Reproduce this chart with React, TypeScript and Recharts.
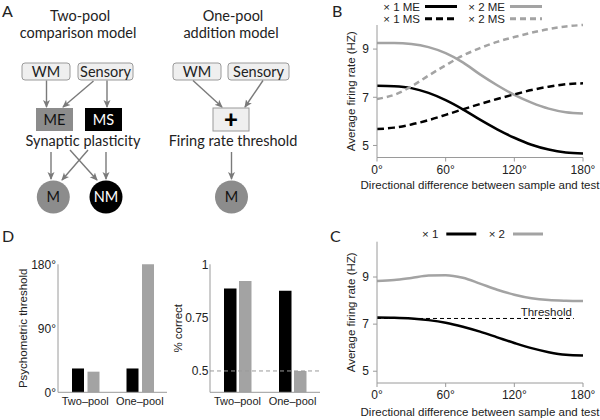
import React from 'react';
import { LineChart, Line, XAxis, YAxis, BarChart, Bar, ReferenceLine, Label } from 'recharts';

// ---------- data ----------
const angles = [0, 15, 30, 45, 60, 75, 90, 105, 120, 135, 150, 165, 180];
const bX1ME = [7.48, 7.46, 7.38, 7.18, 6.88, 6.5, 6.07, 5.67, 5.32, 5.03, 4.83, 4.71, 4.67];
const bX2ME = [9.25, 9.25, 9.21, 9.08, 8.83, 8.45, 7.95, 7.5, 7.1, 6.78, 6.53, 6.38, 6.33];
const bX1MS = [5.68, 5.74, 5.87, 6.05, 6.27, 6.5, 6.72, 6.93, 7.12, 7.3, 7.44, 7.54, 7.58];
const bX2MS = [6.93, 7.1, 7.45, 7.9, 8.33, 8.73, 9.04, 9.3, 9.5, 9.68, 9.83, 9.94, 10.0];
const cX1 = [7.28, 7.27, 7.24, 7.17, 7.06, 6.89, 6.68, 6.44, 6.2, 5.98, 5.81, 5.7, 5.67];
const cX2 = [8.83, 8.87, 8.96, 9.06, 9.08, 8.97, 8.72, 8.46, 8.25, 8.1, 8.02, 7.99, 7.98];
const cThreshold = 7.24;
const cThresholdEnd = 172;
const angleTicks = [0, 60, 120, 180];
const rateTicks = [5, 7, 9];
const models = ['Two–pool', 'One–pool'];
const thresholdX1 = [33.5, 33.5];
const thresholdX2 = [29, 180];
const thresholdTicks = [0, 90, 180];
const correctX1 = [0.887, 0.876];
const correctX2 = [0.922, 0.5];
const correctTicks = [0.5, 0.75, 1];
const chance = 0.5;
const legendB = ['× 1 ME', '× 2 ME', '× 1 MS', '× 2 MS'];
const legendC = ['× 1', '× 2'];

const bData = angles.map((a, i) => ({ angle: a, x1ME: bX1ME[i], x2ME: bX2ME[i], x1MS: bX1MS[i], x2MS: bX2MS[i] }));
const cData = angles.map((a, i) => ({ angle: a, x1: cX1[i], x2: cX2[i] }));
const dThr = models.map((m, i) => ({ model: m, x1: thresholdX1[i], x2: thresholdX2[i] }));
const dCor = models.map((m, i) => ({ model: m, x1: correctX1[i], x2: correctX2[i] }));

// ---------- style ----------
const BLACK = '#000000';
const GRAY = '#a3a3a3';
const AXIS = '#9a9a9a';
const TEXT = '#222222';
const SANS = '"Liberation Sans", Arial, sans-serif';
const HUM = 'Lato, "Open Sans", sans-serif';
const deg = (v: number) => `${v}°`;

const seriesB = [
  { key: 'x1ME', color: BLACK, dash: undefined as string | undefined },
  { key: 'x2ME', color: GRAY, dash: undefined as string | undefined },
  { key: 'x1MS', color: BLACK, dash: '7 4' },
  { key: 'x2MS', color: GRAY, dash: '6 4' },
];
const seriesC = [
  { key: 'x1', color: BLACK },
  { key: 'x2', color: GRAY },
];

const tickStyle = { fill: TEXT, fontSize: 12, fontFamily: SANS };

function PanelA() {
  const arrows: [number, number, number, number][] = [
    [46.5, 80.5, 46.5, 107],
    [93.5, 81, 63, 107],
    [107, 80.5, 107, 107],
    [193, 80.5, 222, 107],
    [263, 80.5, 245, 107],
    [51, 152, 51, 179],
    [88, 150, 62, 180],
    [70, 150, 97, 180],
    [106, 152, 106, 179],
    [231.5, 152, 231.5, 179],
  ];
  const box = (x: number, y: number, w: number, h: number, label: string) => (
    <g key={label + x}>
      <rect x={x} y={y} width={w} height={h} rx={3} fill="#efefef" stroke="#9a9a9a" strokeWidth={1} />
      <text x={x + w / 2} y={y + h / 2 + 5} textAnchor="middle" fontSize={14.5} fill={TEXT}>{label}</text>
    </g>
  );
  return (
    <svg width={300} height={216} style={{ position: 'absolute', left: 0, top: 0, fontFamily: HUM }}>
      <defs>
        <marker id="ah" markerWidth={8} markerHeight={8} refX={7} refY={4} orient="auto" markerUnits="userSpaceOnUse">
          <path d="M0,0.5 L8,4 L0,7.5 L2,4 z" fill="#7a7a7a" />
        </marker>
      </defs>
      <text x={2} y={16.5} fontSize={16} fill={TEXT}>A</text>
      <text x={80} y={21} textAnchor="middle" fontSize={14.5} fill={TEXT}>Two-pool</text>
      <text x={78} y={38} textAnchor="middle" fontSize={14.5} fill={TEXT}>comparison model</text>
      <text x={233} y={21} textAnchor="middle" fontSize={14.5} fill={TEXT}>One-pool</text>
      <text x={231} y={38} textAnchor="middle" fontSize={14.5} fill={TEXT}>addition model</text>
      {box(22, 63, 48, 17, 'WM')}
      {box(78, 63, 55, 17, 'Sensory')}
      {box(173, 63, 48, 17, 'WM')}
      {box(228, 63, 61, 17, 'Sensory')}
      <rect x={36} y={108} width={37} height={23} fill="#8c8c8c" />
      <text x={54.5} y={124.5} textAnchor="middle" fontSize={14.5} fill="#111">ME</text>
      <rect x={85} y={108} width={37} height={23} fill="#000" />
      <text x={103.5} y={124.5} textAnchor="middle" fontSize={14.5} fill="#fff">MS</text>
      <rect x={213} y={108} width={36} height={23} fill="#efefef" stroke="#9a9a9a" />
      <text x={231} y={128} textAnchor="middle" fontSize={24} fontWeight={900} fill="#000">+</text>
      <text x={83} y={146} textAnchor="middle" fontSize={14.5} fill={TEXT}>Synaptic plasticity</text>
      <text x={233} y={146} textAnchor="middle" fontSize={14.5} fill={TEXT}>Firing rate threshold</text>
      {arrows.map(([x1, y1, x2, y2], i) => (
        <line key={i} x1={x1} y1={y1} x2={x2} y2={y2} stroke="#7a7a7a" strokeWidth={1.4} markerEnd="url(#ah)" />
      ))}
      <circle cx={53.3} cy={197} r={16.5} fill="#8c8c8c" />
      <text x={53.3} y={202} textAnchor="middle" fontSize={14.5} fill="#111">M</text>
      <circle cx={106} cy={197} r={16.5} fill="#000" />
      <text x={106} y={202} textAnchor="middle" fontSize={14.5} fill="#fff">NM</text>
      <circle cx={231.5} cy={197} r={16.5} fill="#8c8c8c" />
      <text x={231.5} y={202} textAnchor="middle" fontSize={14.5} fill="#111">M</text>
    </svg>
  );
}

function LegendB() {
  return (
    <svg width={300} height={28} style={{ position: 'absolute', left: 300, top: 0, fontFamily: SANS }}>
      {legendB.map((name, i) => {
        const col = i % 2;
        const row = Math.floor(i / 2);
        const s = seriesB[i];
        const tx = 120 + col * 85;
        const y = 6.5 + row * 12.3;
        return (
          <g key={name}>
            <text x={tx} y={y + 4} textAnchor="end" fontSize={11.5} fill={TEXT}>{name}</text>
            <line x1={tx + 5} x2={tx + 37} y1={y} y2={y} stroke={s.color} strokeWidth={3} strokeDasharray={s.dash} />
          </g>
        );
      })}
    </svg>
  );
}

function LegendC() {
  return (
    <svg width={300} height={20} style={{ position: 'absolute', left: 300, top: 224, fontFamily: SANS }}>
      {legendC.map((name, i) => {
        const s = seriesC[i];
        const tx = 138.3 + i * 66.7;
        const y = 10;
        return (
          <g key={name}>
            <text x={tx} y={y + 4} textAnchor="end" fontSize={11.5} fill={TEXT}>{name}</text>
            <line x1={tx + 8} x2={tx + 38} y1={y} y2={y} stroke={s.color} strokeWidth={3} />
          </g>
        );
      })}
    </svg>
  );
}

export default function App() {
  return (
    <div style={{ position: 'absolute', left: 0, top: 0, width: 600, height: 420, background: '#fff', overflow: 'hidden', fontFamily: SANS }}>
      <PanelA />
      <svg width={40} height={22} style={{ position: 'absolute', left: 328, top: 0, fontFamily: HUM }}>
        <text x={4} y={16.5} fontSize={16} fill={TEXT}>B</text>
      </svg>
      <svg width={40} height={22} style={{ position: 'absolute', left: 326, top: 224, fontFamily: HUM }}>
        <text x={4} y={18} fontSize={16} fill={TEXT}>C</text>
      </svg>
      <svg width={40} height={22} style={{ position: 'absolute', left: 0, top: 224, fontFamily: HUM }}>
        <text x={2} y={18} fontSize={16} fill={TEXT}>D</text>
      </svg>

      {/* Panel B */}
      <div style={{ position: 'absolute', left: 300, top: 0 }}>
        <LineChart width={300} height={200} data={bData} margin={{ top: 25, right: 17, bottom: 7.5, left: 47 }}>
          <XAxis dataKey="angle" type="number" domain={[0, 180]} ticks={angleTicks} tickFormatter={deg}
            stroke={AXIS} tick={tickStyle} tickSize={4} tickMargin={3.5} height={35} interval={0}>
            <Label value="Directional difference between sample and test" position="insideBottom" offset={3.5} fontSize={11.5} fill={TEXT} />
          </XAxis>
          <YAxis domain={[4.5, 10]} ticks={rateTicks} stroke={AXIS} tick={tickStyle} tickSize={4} tickMargin={4} width={30} interval={0}>
            <Label value="Average firing rate (HZ)" angle={-90} position="insideLeft" offset={3.8} fontSize={11.5} fill={TEXT} style={{ textAnchor: 'middle' }} />
          </YAxis>
          {seriesB.map((s) => (
            <Line key={s.key} dataKey={s.key} type="monotone" stroke={s.color} strokeWidth={2.5}
              strokeDasharray={s.dash} dot={false} activeDot={false} isAnimationActive={false} />
          ))}
        </LineChart>
      </div>
      <LegendB />

      {/* Panel C */}
      <div style={{ position: 'absolute', left: 300, top: 200 }}>
        <LineChart width={300} height={220} data={cData} margin={{ top: 41.7, right: 17, bottom: 1, left: 47 }}>
          <XAxis dataKey="angle" type="number" domain={[0, 180]} ticks={angleTicks} tickFormatter={deg}
            stroke={AXIS} tick={tickStyle} tickSize={4} tickMargin={3} height={36} interval={0}>
            <Label value="Directional difference between sample and test" position="insideBottom" offset={3} fontSize={11.5} fill={TEXT} />
          </XAxis>
          <YAxis domain={[4.5, 10.5]} ticks={rateTicks} stroke={AXIS} tick={tickStyle} tickSize={4} tickMargin={4} width={30} interval={0}>
            <Label value="Average firing rate (HZ)" angle={-90} position="insideLeft" offset={3.8} fontSize={11.5} fill={TEXT} style={{ textAnchor: 'middle' }} />
          </YAxis>
          <ReferenceLine segment={[{ x: 0, y: cThreshold }, { x: cThresholdEnd, y: cThreshold }]} stroke={BLACK} strokeDasharray="4 3" strokeWidth={1}>
            <Label value="Threshold" position="insideBottomRight" offset={2} fontSize={11.5} fill={TEXT} />
          </ReferenceLine>
          {seriesC.map((s) => (
            <Line key={s.key} dataKey={s.key} type="monotone" stroke={s.color} strokeWidth={2.5}
              dot={false} activeDot={false} isAnimationActive={false} />
          ))}
        </LineChart>
      </div>
      <LegendC />

      {/* Panel D left */}
      <div style={{ position: 'absolute', left: 0, top: 200 }}>
        <BarChart width={180} height={220} data={dThr} margin={{ top: 64.3, right: 13, bottom: 7.7, left: 18 }}
          barSize={12} barGap={3.5}>
          <XAxis dataKey="model" stroke={AXIS} tick={{ ...tickStyle, fontSize: 11 }} tickLine={false} tickSize={0} tickMargin={4.4} height={20} interval={0} />
          <YAxis domain={[0, 180]} ticks={thresholdTicks} tickFormatter={deg} stroke={AXIS} tick={tickStyle}
            tickLine={false} tickSize={0} tickMargin={2} width={40} interval={0}>
            <Label value="Psychometric threshold" angle={-90} position="insideLeft" offset={5} fontSize={11.5} fill={TEXT} style={{ textAnchor: 'middle' }} />
          </YAxis>
          <Bar dataKey="x1" fill={BLACK} isAnimationActive={false} />
          <Bar dataKey="x2" fill={GRAY} isAnimationActive={false} />
        </BarChart>
      </div>

      {/* Panel D right */}
      <div style={{ position: 'absolute', left: 165, top: 200 }}>
        <BarChart width={160} height={220} data={dCor} margin={{ top: 64.3, right: 5, bottom: 7.7, left: 5 }}
          barSize={12.5} barGap={2.5}>
          <XAxis dataKey="model" stroke={AXIS} tick={{ ...tickStyle, fontSize: 11 }} tickLine={false} tickSize={0} tickMargin={4.4} height={20} interval={0} />
          <YAxis domain={[0.4, 1]} ticks={correctTicks} stroke={AXIS} tick={tickStyle}
            tickLine={false} tickSize={0} tickMargin={1.5} width={40} interval={0}>
            <Label value="% correct" angle={-90} position="insideLeft" offset={8.3} fontSize={11.5} fill={TEXT} style={{ textAnchor: 'middle' }} />
          </YAxis>
          <Bar dataKey="x1" fill={BLACK} isAnimationActive={false} />
          <Bar dataKey="x2" fill={GRAY} isAnimationActive={false} />
          <ReferenceLine y={chance} stroke={AXIS} strokeDasharray="4 3" strokeWidth={1} />
        </BarChart>
      </div>
    </div>
  );
}
